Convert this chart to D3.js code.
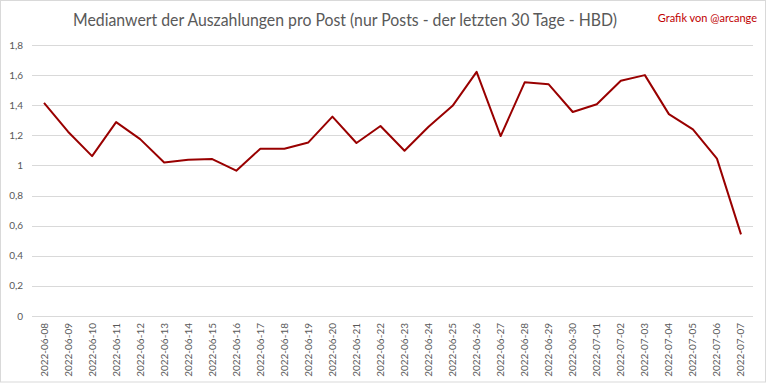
<!DOCTYPE html>
<html>
<head>
<meta charset="utf-8">
<script src="https://cdn.jsdelivr.net/npm/d3@7"></script>
<style>
  body { margin: 0; background: #fff; }
  svg { display: block; font-family: Lato, "Open Sans", sans-serif; }
</style>
</head>
<body>
<div id="chart"></div>
<script>
// data
var dates = ["2022-06-08","2022-06-09","2022-06-10","2022-06-11","2022-06-12","2022-06-13","2022-06-14","2022-06-15",
  "2022-06-16","2022-06-17","2022-06-18","2022-06-19","2022-06-20","2022-06-21","2022-06-22","2022-06-23",
  "2022-06-24","2022-06-25","2022-06-26","2022-06-27","2022-06-28","2022-06-29","2022-06-30","2022-07-01",
  "2022-07-02","2022-07-03","2022-07-04","2022-07-05","2022-07-06","2022-07-07"]
var medians = [1.416, 1.224, 1.062, 1.288, 1.175, 1.02, 1.038, 1.042, 0.965, 1.111, 1.111, 1.153, 1.324, 1.149, 1.262,
  1.098, 1.257, 1.396, 1.622, 1.195, 1.552, 1.539, 1.355, 1.406, 1.563, 1.6, 1.341, 1.24, 1.045, 0.542]
var yTicks = [0, 0.2, 0.4, 0.6, 0.8, 1, 1.2, 1.4, 1.6, 1.8]

var W = 768, H = 384
var plot = { left: 32, right: 753, top: 45, bottom: 316 }

var svg = d3.select("#chart").append("svg")
  .attr("width", W)
  .attr("height", H)

// chart area border
svg.append("rect")
  .attr("x", 0.5).attr("y", 0.5)
  .attr("width", W - 3).attr("height", H - 2.5)
  .attr("fill", "#fff")
  .attr("stroke", "#d9d9d9")

var x = d3.scaleBand()
  .domain(dates)
  .range([plot.left, plot.right])

var y = d3.scaleLinear()
  .domain([0, 1.8])
  .range([plot.bottom, plot.top])

var fmt = function(d) { return d3.format("~g")(d).replace(".", ",") }

// gridlines
svg.append("g")
  .selectAll("line")
  .data(yTicks)
  .join("line")
    .attr("x1", plot.left)
    .attr("x2", plot.right)
    .attr("y1", d => Math.round(y(d)) + 0.5)
    .attr("y2", d => Math.round(y(d)) + 0.5)
    .attr("stroke", "#d9d9d9")
    .attr("stroke-width", 1)

// y labels
svg.append("g")
  .selectAll("text")
  .data(yTicks)
  .join("text")
    .attr("x", 23)
    .attr("y", d => y(d))
    .attr("dy", "0.35em")
    .attr("text-anchor", "end")
    .attr("font-size", 10)
    .attr("fill", "#595959")
    .text(fmt)

// x labels, rotated
svg.append("g")
  .selectAll("text")
  .data(dates)
  .join("text")
    .attr("transform", d => "translate(" + (x(d) + x.bandwidth() / 2) + ",323) rotate(-90)")
    .attr("dy", "0.35em")
    .attr("text-anchor", "end")
    .attr("font-size", 10)
    .attr("fill", "#595959")
    .text(d => d)

// line
var line = d3.line()
  .x((d, i) => x(dates[i]) + x.bandwidth() / 2)
  .y(d => y(d))

svg.append("path")
  .datum(medians)
  .attr("d", line)
  .attr("fill", "none")
  .attr("stroke", "#990000")
  .attr("stroke-width", 2)
  .attr("stroke-linejoin", "round")

// titles
svg.append("text")
  .attr("x", 345)
  .attr("y", 26)
  .attr("text-anchor", "middle")
  .attr("font-size", 17)
  .attr("fill", "#595959")
  .attr("textLength", 544)
  .attr("lengthAdjust", "spacingAndGlyphs")
  .text("Medianwert der Auszahlungen pro Post (nur Posts - der letzten  30 Tage - HBD)")

svg.append("text")
  .attr("x", 757)
  .attr("y", 22)
  .attr("text-anchor", "end")
  .attr("font-size", 11)
  .attr("fill", "#c00000")
  .text("Grafik von @arcange")
</script>
</body>
</html>
